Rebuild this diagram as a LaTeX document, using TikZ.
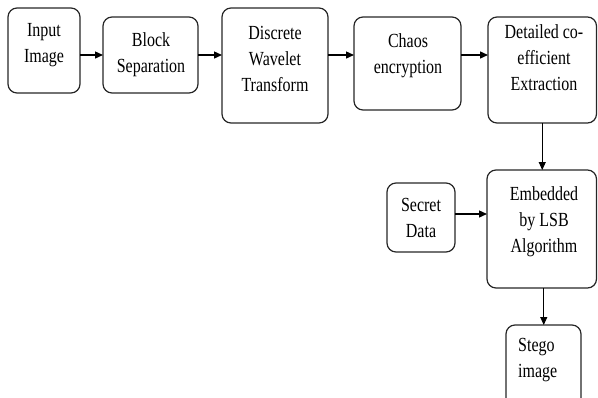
\documentclass[tikz,border=0pt]{standalone}
\usepackage{fontspec}
\setmainfont{Liberation Serif}[FakeStretch=0.8]
\usetikzlibrary{arrows.meta}
\tikzset{
  box/.style={draw=black!85, line width=1.2pt, rounded corners=9pt, inner sep=0pt, outer sep=0pt, anchor=north west},
  txt/.style={inner sep=0pt, align=center, anchor=north, font=\fontsize{20}{26}\selectfont},
  conn/.style={draw=black, line width=1.4pt, -{Triangle[length=8pt,width=7pt]}},
  vconn/.style={draw=black, line width=1pt, -{Triangle[length=8pt,width=7pt]}}
}
\begin{document}
\begin{tikzpicture}[x=1pt,y=-1pt]
\useasboundingbox (0,0) rectangle (598,397);
% boxes
\node[box, minimum width=72pt, minimum height=85pt] (in) at (8,8) {};
\node[box, minimum width=95pt, minimum height=76pt] (bs) at (103,17) {};
\node[box, minimum width=106pt, minimum height=115pt] (dwt) at (222,8) {};
\node[box, minimum width=107pt, minimum height=93pt] (ch) at (354,17) {};
\node[box, minimum width=108.5pt, minimum height=106pt] (det) at (488,17) {};
\node[box, minimum width=68pt, minimum height=69pt] (sec) at (387,183) {};
\node[box, minimum width=109.5pt, minimum height=118pt] (emb) at (487,170) {};
\node[box, minimum width=75pt, minimum height=90pt] (st) at (506,325) {};
% texts
\node[txt] (inT) at (44,23) {Input\\Image};
\node[txt] (bsT) at (151,32) {Block\\Separation};
\node[txt] (dwtT) at (275,26) {Discrete\\Wavelet\\Transform};
\node[txt] (chT) at (408,33) {Chaos\\encryption};
\node[txt] (detT) at (544,24) {Detailed co-\\efficient\\Extraction};
\node[txt] (secT) at (421,198) {Secret\\Data};
\node[txt] (embT) at (544,186) {Embedded\\by LSB\\Algorithm};
\node[txt, anchor=north west, align=left] (stT) at (518,338) {Stego\\image};
% helper points
\coordinate (secA) at ([yshift=3.5pt]sec.east);
\coordinate (embB) at ([xshift=2pt]emb.south);
% connectors
\draw[conn] (in.east |- bs.west) -- (bs.west);
\draw[conn] (bs.east) -- (dwt.west |- bs.east);
\draw[conn] (dwt.east |- bs.east) -- (ch.west |- bs.east);
\draw[conn] (ch.east |- bs.east) -- (det.west |- bs.east);
\draw[conn] (secA) -- (emb.west |- secA);
\draw[vconn] (det.south) -- (emb.north -| det.south);
\draw[vconn] (embB) -- (embB |- st.north);
\end{tikzpicture}
\end{document}
